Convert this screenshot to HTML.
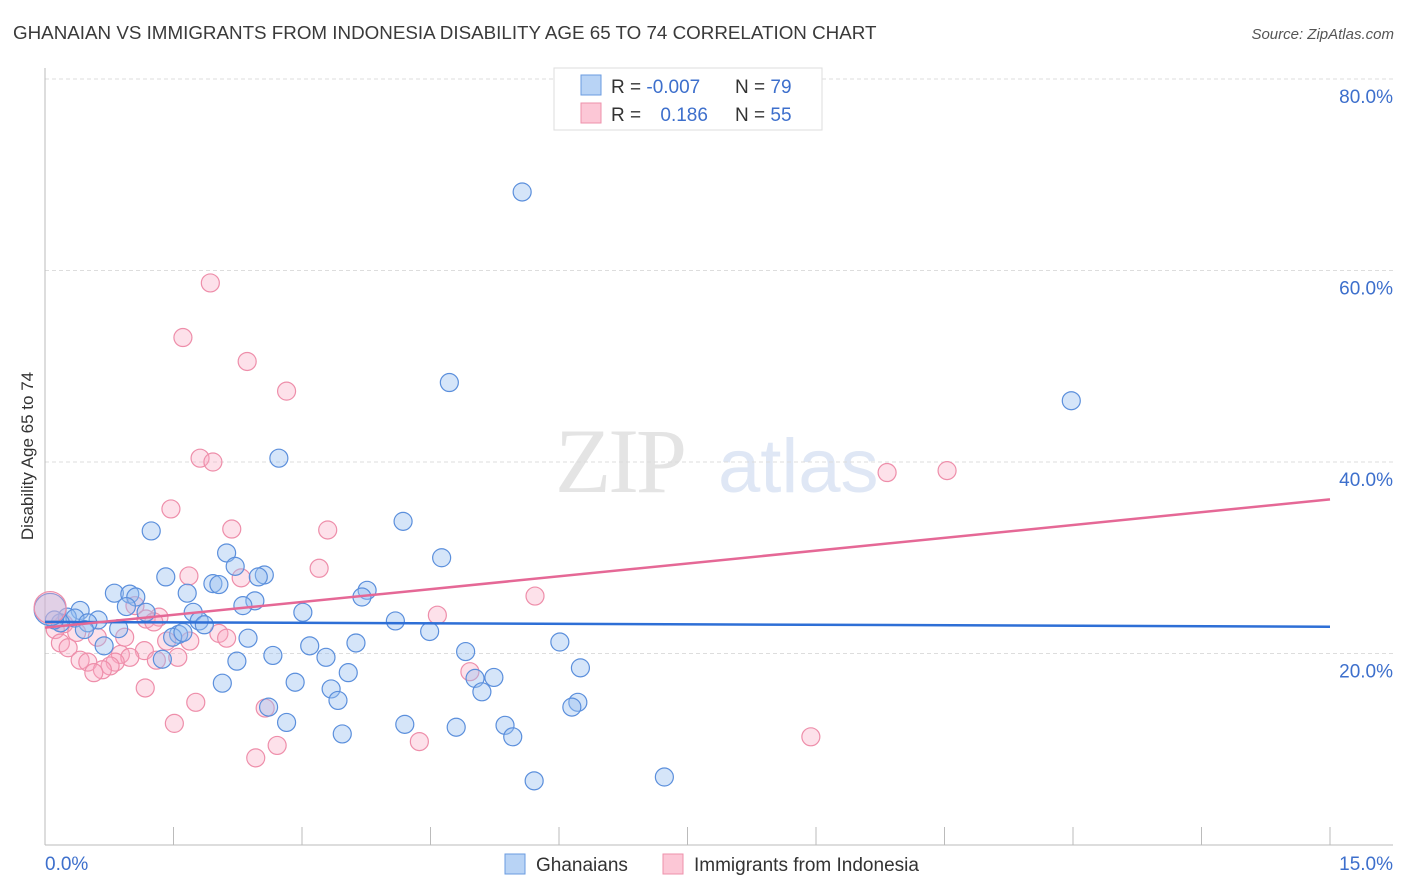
<!DOCTYPE html>
<html><head><meta charset="utf-8"><style>
body{margin:0;background:#fff;font-family:"Liberation Sans",sans-serif}
svg{display:block}
</style></head><body>
<svg id="chart" width="1406" height="892" xmlns="http://www.w3.org/2000/svg">
<text x="13" y="39" font-size="18.8" fill="#3a3a3a">GHANAIAN VS IMMIGRANTS FROM INDONESIA DISABILITY AGE 65 TO 74 CORRELATION CHART</text>
<text x="1394" y="39" font-size="15" fill="#555" text-anchor="end" font-style="italic">Source: ZipAtlas.com</text>
<g>
<text x="555" y="492" font-size="92" fill="#e4e4e4" font-family="Liberation Serif,serif" letter-spacing="-3">ZIP</text>
<text x="718" y="492" font-size="76" fill="#dfe7f5">atlas</text>
</g>
<g id="grid"></g>
<g id="axes"></g>
<g id="pts"></g>
<g id="trends"></g>
<text transform="translate(33,456) rotate(-90)" font-size="17" fill="#333" text-anchor="middle">Disability Age 65 to 74</text>
<g>
<rect x="554" y="68" width="268" height="62" fill="#fff" stroke="#ddd"/>
<rect x="581" y="75" width="20" height="20" fill="#b8d3f5" stroke="#6a9be0"/>
<rect x="581" y="103" width="20" height="20" fill="#fcc7d6" stroke="#ee90ab"/>
<text x="611" y="93" font-size="19" fill="#333">R = <tspan fill="#3d6fcc">-0.007</tspan></text>
<text x="735" y="93" font-size="19" fill="#333">N = <tspan fill="#3d6fcc">79</tspan></text>
<text x="611" y="121" font-size="19" fill="#333">R = <tspan fill="#3d6fcc" dx="14">0.186</tspan></text>
<text x="735" y="121" font-size="19" fill="#333">N = <tspan fill="#3d6fcc">55</tspan></text>
</g>
<g>
<rect x="505" y="854" width="20" height="20" fill="#b8d3f5" stroke="#6a9be0"/>
<text x="536" y="871" font-size="19" fill="#333">Ghanaians</text>
<rect x="663" y="854" width="20" height="20" fill="#fcc7d6" stroke="#ee90ab"/>
<text x="694" y="871" font-size="19" fill="#333">Immigrants from Indonesia</text>
</g>
</svg>
<script>
const xTicks=[0,1.5,3,4.5,6,7.5,9,10.5,12,13.5,15];
const yTicks=[20,40,60,80];
const yTickLabels=["20.0%","40.0%","60.0%","80.0%"];
const blueX=[5.57,4.72,11.98,2.73,4.18,1.24,4.63,2.12,2.22,1.41,2.56,2.49,1.96,2.03,3.76,3.70,0.81,0.99,1.06,1.66,2.45,2.31,0.95,0.41,1.18,1.73,3.01,0.26,0.35,0.62,0.50,0.18,1.80,1.86,4.09,0.11,0.86,0.46,4.49,1.56,1.49,2.37,1.61,3.63,6.01,3.09,0.69,4.91,2.66,3.28,2.24,1.37,6.25,3.54,5.02,5.24,2.07,2.92,3.34,5.10,3.42,6.22,6.15,2.61,2.82,4.20,4.80,5.37,3.47,5.46,5.71,7.23];
const blueY=[68.2,48.3,46.4,40.4,33.8,32.8,30.0,30.5,29.1,28.0,28.2,28.0,27.3,27.2,26.6,25.9,26.3,26.2,25.9,26.3,25.5,25.0,24.9,24.5,24.3,24.3,24.3,23.8,23.7,23.5,23.2,23.2,23.4,23.0,23.4,23.5,22.6,22.5,22.3,22.0,21.7,21.6,22.2,21.1,21.2,20.8,20.8,20.2,19.8,19.6,19.2,19.4,18.5,18.0,17.4,17.5,16.9,17.0,16.3,16.0,15.1,14.9,14.4,14.4,12.8,12.6,12.3,12.5,11.6,11.3,6.7,7.1];
const pinkX=[1.93,1.61,2.36,2.82,1.81,1.96,9.83,10.53,1.47,2.18,3.30,3.20,1.68,2.29,5.72,1.05,1.33,1.18,1.27,4.58,0.22,0.12,0.37,2.03,2.12,0.93,0.61,1.42,1.69,0.18,0.27,1.16,0.88,0.99,1.55,1.30,0.41,0.50,0.82,0.76,0.67,4.96,0.57,1.17,1.76,2.57,1.51,4.37,2.71,8.94,2.46];
const pinkY=[58.7,53.0,50.5,47.4,40.4,40.0,38.9,39.1,35.1,33.0,32.9,28.9,28.1,27.9,26.0,25.0,23.8,23.6,23.3,24.0,23.1,22.5,22.2,22.1,21.6,21.7,21.7,21.3,21.3,21.1,20.6,20.3,19.9,19.6,19.6,19.3,19.3,19.1,19.1,18.7,18.3,18.1,18.0,16.4,14.9,14.3,12.7,10.8,10.4,11.3,9.1];
const bigPoints=[[0.06,24.6,"blue"],[0.06,24.8,"pink"]];
const blueTrend=[23.3,22.8];
const pinkTrend=[22.7,36.1];
const NS="http://www.w3.org/2000/svg";
const X=v=>45+v/15*1285, Y=v=>845-v/80*766;
function mk(p,t,a){const e=document.createElementNS(NS,t);for(const k in a)e.setAttribute(k,a[k]);p.appendChild(e);return e;}
const grid=document.getElementById('grid'),axes=document.getElementById('axes'),pts=document.getElementById('pts'),tr=document.getElementById('trends');
yTicks.forEach((v,i)=>{
 const l=mk(grid,'line',{x1:45,x2:1393,y1:Y(v),y2:Y(v),stroke:'#ddd','stroke-dasharray':'4,3'});
 
 
 const t=mk(axes,'text',{x:1393,y:Y(v)+24,'font-size':19,fill:'#3d6fcc','text-anchor':'end'});t.textContent=yTickLabels[i];
 
 
});
const ya=mk(axes,'line',{x1:45,x2:45,y1:68,y2:845,stroke:'#bbb'});


const xa=mk(axes,'line',{x1:45,x2:1393,y1:845,y2:845,stroke:'#bbb'});


xTicks.forEach(v=>{const l=mk(axes,'line',{x1:X(v),x2:X(v),y1:827,y2:845,stroke:'#bbb'});
 
 });
const t0=mk(axes,'text',{x:45,y:870,'font-size':19,fill:'#3d6fcc'});t0.textContent='0.0%';


const t1=mk(axes,'text',{x:1393,y:870,'font-size':19,fill:'#3d6fcc','text-anchor':'end'});t1.textContent='15.0%';


const st={blue:{fill:'rgba(150,190,240,0.4)',stroke:'#5b8fdc'},pink:{fill:'rgba(248,170,195,0.35)',stroke:'#ee8eaa'}};
function dot(x,y,s,r,name){const c=mk(pts,'circle',{cx:X(x),cy:Y(y),r:r,fill:st[s].fill,stroke:st[s].stroke,'stroke-width':1.2});
 
 }
pinkX.forEach((x,i)=>dot(x,pinkY[i],'pink',9,'indonesia-point'));
blueX.forEach((x,i)=>dot(x,blueY[i],'blue',9,'ghanaian-point'));
bigPoints.forEach(p=>dot(p[0],p[1],p[2],16,'cluster-point'));
const bl=mk(tr,'line',{x1:X(0),x2:X(15),y1:Y(blueTrend[0]),y2:Y(blueTrend[1]),stroke:'#2e6fd6','stroke-width':2.5});


const pl=mk(tr,'line',{x1:X(0),x2:X(15),y1:Y(pinkTrend[0]),y2:Y(pinkTrend[1]),stroke:'#e56896','stroke-width':2.5});


</script>
</body></html>
